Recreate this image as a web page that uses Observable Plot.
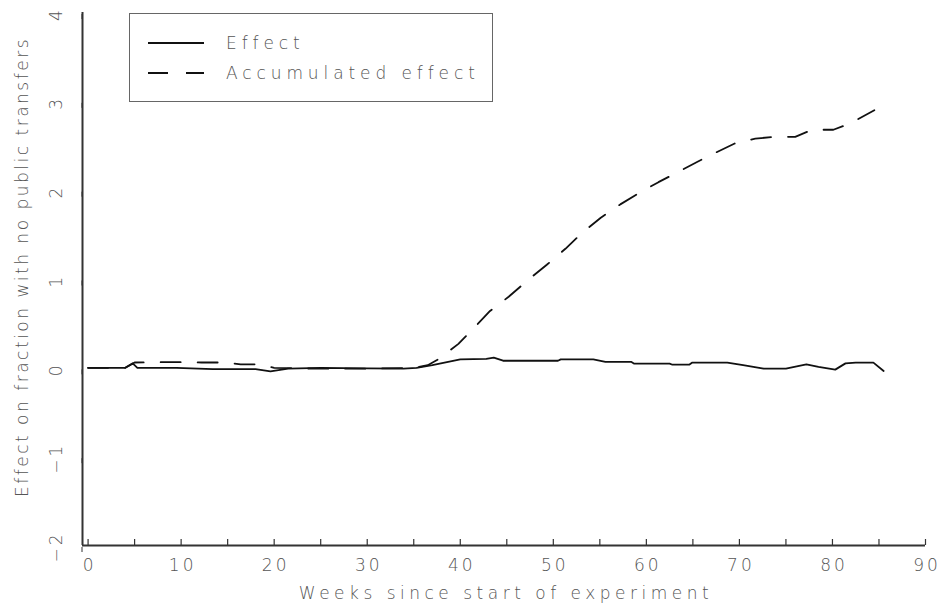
<!DOCTYPE html>
<html>
<head>
<meta charset="utf-8">
<script src="https://cdn.jsdelivr.net/npm/d3@7"></script>
<script src="https://cdn.jsdelivr.net/npm/@observablehq/plot@0.6"></script>
<style>
  body { margin: 0; background: #fff; }
  #wrap { position: relative; width: 944px; height: 611px; font-family: "DejaVu Sans", sans-serif; }
  #legend { position: absolute; left: 129px; top: 13px; width: 364px; height: 89px; border: 1.5px solid #666; background: #fff; box-sizing: border-box; }
  #legend svg { position: absolute; left: 0; top: 0; }
  svg text { letter-spacing: 4.5px; font-weight: 300; }
  #legend svg text { letter-spacing: 4.9px; }
  g[aria-label="x-axis tick label"] text, g[aria-label="y-axis tick label"] text { letter-spacing: 3px; }
</style>
</head>
<body>
<div id="wrap"></div>
<script>
// ---- data ----
const effectWeeks = [0, 4, 4.8, 5.3, 9.5, 13.4, 18, 19.6, 21.5, 25, 30, 33.9, 35.3, 37, 40, 42.8, 43.6, 44.6, 50.5, 50.8, 54.3, 55.6, 58.4, 58.7, 62.5, 62.8, 64.6, 64.9, 68.7, 70.4, 72.6, 75, 77.2, 78.5, 80.3, 81.4, 82.5, 84.4, 85.5];
const effect      = [0, 0, 0.05, 0.0, 0.0, -0.015, -0.015, -0.04, -0.01, 0.0, -0.005, -0.01, 0.0, 0.03, 0.095, 0.1, 0.115, 0.08, 0.08, 0.095, 0.095, 0.066, 0.066, 0.047, 0.047, 0.035, 0.035, 0.058, 0.058, 0.03, -0.008, -0.008, 0.039, 0.01, -0.02, 0.05, 0.059, 0.059, -0.035];

const accWeeks = [0, 4, 5, 8, 10.2, 12.2, 14.4, 16.4, 18.2, 20, 25, 30, 35, 36.5, 37.7, 39.8, 41.4, 43.2, 45.2, 47.3, 49.3, 51.3, 53.1, 55.1, 57.2, 59.4, 61.3, 63.5, 65.5, 67.6, 69.6, 71.7, 73.7, 76, 77.8, 80.1, 81.9, 84.5];
const accumulated = [0, 0, 0.06, 0.064, 0.064, 0.06, 0.06, 0.04, 0.04, 0.0, -0.01, -0.01, 0.0, 0.03, 0.1, 0.27, 0.44, 0.64, 0.8, 0.99, 1.16, 1.34, 1.52, 1.69, 1.84, 1.98, 2.09, 2.21, 2.32, 2.43, 2.53, 2.58, 2.6, 2.6, 2.68, 2.68, 2.75, 2.9];

const xTicksMinor = d3.range(0, 91, 5);
const xTickLabels = d3.range(0, 91, 10);
const yTickLabels = [-2, -1, 0, 1, 2, 3, 4];
const seriesNames = ["Effect", "Accumulated effect"];
const xTitle = "Weeks since start of experiment";
const yTitle = "Effect on fraction with no public transfers";

const xMin = -0.6, xMax = 90, yMin = -2, yMax = 4;

const effectData = effectWeeks.map((w, i) => ({week: w, value: effect[i]}));
const accData = accWeeks.map((w, i) => ({week: w, value: accumulated[i]}));

const textColor = "#555";
const lineColor = "#111";
const dash = "20,17";

const chart = Plot.plot({
  width: 944,
  height: 611,
  marginLeft: 82,
  marginRight: 19,
  marginTop: 12,
  marginBottom: 66,
  style: {fontFamily: "DejaVu Sans, sans-serif", fontSize: "17px", color: textColor, background: "#fff", overflow: "visible"},
  x: {domain: [xMin, xMax]},
  y: {domain: [yMin, yMax]},
  marks: [
    // axis lines
    Plot.ruleX([xMin], {stroke: "#333", strokeWidth: 2}),
    Plot.ruleY([yMin], {stroke: "#333", strokeWidth: 2}),
    // x minor ticks pointing up
    Plot.tickX(xTicksMinor, {x: d => d, stroke: "#333", strokeWidth: 1.2, insetTop: 533 - 6}),
    Plot.axisX(xTickLabels, {tickSize: 0, tickPadding: 13, dx: 1.5, fontSize: 17, fill: textColor, label: null, tickFormat: d3.format("d")}),
    Plot.axisY(yTickLabels, {tickSize: 5, tickPadding: 21, rotate: -90, textAnchor: "middle", dy: 1.5, fontSize: 17, fill: textColor, stroke: "#333", label: null, tickFormat: d => d < 0 ? "\u2212" + Math.abs(d) : String(d)}),
    Plot.text([xTitle], {frameAnchor: "bottom", dy: 53, dx: 2, fontSize: 17, fill: textColor}),
    Plot.text([yTitle], {frameAnchor: "left", rotate: -90, textAnchor: "middle", dx: -60, dy: -12, fontSize: 17, fill: textColor}),
    // lines
    Plot.line(effectData, {x: "week", y: "value", stroke: lineColor, strokeWidth: 1.8}),
    Plot.line(accData, {x: "week", y: "value", stroke: lineColor, strokeWidth: 1.8, strokeDasharray: dash})
  ]
});

// tighter spacing for the long vertical title
d3.select(chart).selectAll("text").filter(function() { return this.textContent === yTitle; }).style("letter-spacing", "2.5px");

const wrap = document.getElementById("wrap");
wrap.appendChild(chart);

// legend
const legend = document.createElement("div");
legend.id = "legend";
const ns = "http://www.w3.org/2000/svg";
const lsvg = document.createElementNS(ns, "svg");
lsvg.setAttribute("width", 364);
lsvg.setAttribute("height", 89);
seriesNames.forEach((name, i) => {
  const yy = 29 + i * 30;
  const ln = document.createElementNS(ns, "line");
  ln.setAttribute("x1", 18); ln.setAttribute("x2", 74);
  ln.setAttribute("y1", yy); ln.setAttribute("y2", yy);
  ln.setAttribute("stroke", lineColor);
  ln.setAttribute("stroke-width", 2);
  if (i === 1) ln.setAttribute("stroke-dasharray", "20,18");
  lsvg.appendChild(ln);
  const t = document.createElementNS(ns, "text");
  t.setAttribute("x", 96); t.setAttribute("y", yy);
  t.setAttribute("dy", "0.35em");
  t.setAttribute("fill", textColor);
  t.setAttribute("font-size", 17);
  t.setAttribute("font-family", "DejaVu Sans, sans-serif");
  t.textContent = name;
  lsvg.appendChild(t);
});
legend.appendChild(lsvg);
wrap.appendChild(legend);
</script>
</body>
</html>
